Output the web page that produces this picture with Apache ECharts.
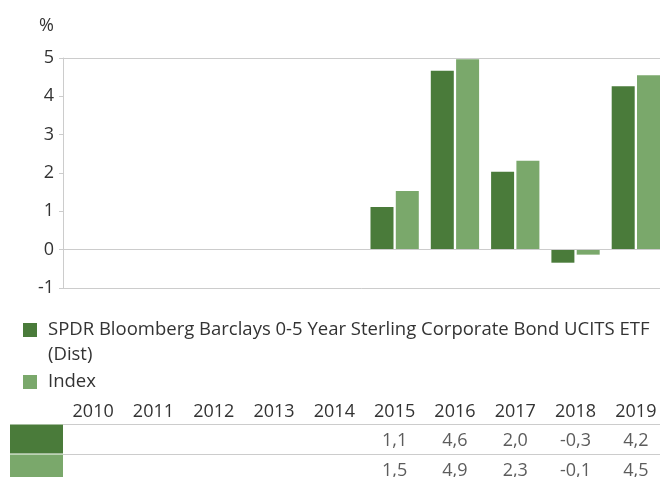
<!DOCTYPE html>
<html>
<head>
<meta charset="utf-8">
<script src="https://cdn.jsdelivr.net/npm/echarts@6/dist/echarts.min.js"></script>
<style>
html,body{margin:0;padding:0;background:#fff;}
#chart{width:660px;height:477px;}
</style>
</head>
<body>
<div id="chart"></div>
<script>
const years = ['2010','2011','2012','2013','2014','2015','2016','2017','2018','2019'];
const fundName = 'SPDR Bloomberg Barclays 0-5 Year Sterling Corporate Bond UCITS ETF (Dist)';
const indexName = 'Index';
const fundValues = [null, null, null, null, null, 1.11, 4.67, 2.03, -0.34, 4.26];
const indexValues = [null, null, null, null, null, 1.53, 4.97, 2.32, -0.13, 4.55];
const fundTable = ['', '', '', '', '', '1,1', '4,6', '2,0', '-0,3', '4,2'];
const indexTable = ['', '', '', '', '', '1,5', '4,9', '2,3', '-0,1', '4,5'];
const yTicks = [-1, 0, 1, 2, 3, 4, 5];

const darkGreen = '#4A7B3A';
const lightGreen = '#7AA86B';
const textColor = '#333333';
const lineColor = '#cccccc';
const FONT = '"Open Sans", sans-serif';

const tableRows = [fundTable, indexTable];
const tableData = [];
tableRows.forEach(function (row, r) {
  row.forEach(function (txt, i) {
    if (txt !== '') tableData.push({ value: [i, r], txt: txt });
  });
});

const legendRich = {
  p: { fontFamily: FONT, fontSize: 18.5, lineHeight: 25, color: textColor, padding: [0, 0, 0, 6] }
};

const chart = echarts.init(document.getElementById('chart'));
chart.setOption({
  animation: false,
  textStyle: { fontFamily: FONT },
  grid: [
    { left: 63, width: 603, top: 58, bottom: 189, outerBoundsMode: 'none', containLabel: false },
    { left: 63, width: 603, top: 424, height: 60, outerBoundsMode: 'none', containLabel: false }
  ],
  legend: [
    {
      data: [fundName], left: 23, top: 292.5, padding: 0,
      itemWidth: 14, itemHeight: 14, icon: 'rect',
      formatter: function (n) {
        const parts = n.split(' (Dist)');
        return '{p| }\n{p|' + parts[0] + '}\n{p|(Dist)}';
      },
      textStyle: { fontFamily: FONT, fontSize: 18.5, color: textColor, lineHeight: 25, rich: legendRich }
    },
    {
      data: [indexName], left: 23, top: 369.5, padding: 0,
      itemWidth: 14, itemHeight: 14, icon: 'rect',
      formatter: function (n) { return '{p|' + n + '}'; },
      textStyle: { fontFamily: FONT, fontSize: 18.5, color: textColor, lineHeight: 25, rich: legendRich }
    }
  ],
  xAxis: [
    {
      type: 'category', gridIndex: 0, data: years, position: 'bottom',
      axisLine: { onZero: false, lineStyle: { color: lineColor, width: 1 } },
      axisTick: { show: false }, axisLabel: { show: false }, splitLine: { show: false }
    },
    {
      type: 'category', gridIndex: 1, data: years, position: 'top',
      axisLine: { show: false }, axisTick: { show: false },
      axisLabel: { fontFamily: FONT, fontSize: 18, color: textColor, margin: 0, interval: 0, lineHeight: 24 },
      splitLine: { show: false }
    }
  ],
  yAxis: [
    {
      type: 'value', gridIndex: 0, min: yTicks[0], max: yTicks[yTicks.length - 1], interval: 1,
      name: '%', nameLocation: 'end', nameGap: 20,
      nameTextStyle: { fontFamily: FONT, fontSize: 18, color: textColor, align: 'right', verticalAlign: 'bottom', lineHeight: 24, padding: [0, 9, 0, 0] },
      axisLine: { show: true, lineStyle: { color: lineColor, width: 1 } },
      axisTick: { show: true, length: 4, lineStyle: { color: lineColor } },
      axisLabel: { fontFamily: FONT, fontSize: 18, color: textColor, margin: 9 },
      splitLine: { show: false }
    },
    {
      type: 'category', gridIndex: 1, data: ['fund', 'index'], inverse: true,
      axisLine: { show: false }, axisTick: { show: false },
      splitLine: { show: true, interval: 0, lineStyle: { color: lineColor, width: 1 } },
      axisLabel: {
        margin: 0, interval: 0,
        formatter: function (v) { return v === 'fund' ? '{a| }' : '{b| }'; },
        rich: {
          a: { width: 53, height: 29, backgroundColor: darkGreen },
          b: { width: 53, height: 29, backgroundColor: lightGreen }
        }
      }
    }
  ],
  series: [
    {
      name: fundName, type: 'bar', xAxisIndex: 0, yAxisIndex: 0,
      data: fundValues, barWidth: 23, barGap: '10%',
      itemStyle: { color: darkGreen },
      markLine: {
        silent: true, symbol: 'none', label: { show: false },
        lineStyle: { color: lineColor, width: 1, type: 'solid' },
        data: [{ yAxis: 0 }, { yAxis: 5 }]
      }
    },
    {
      name: indexName, type: 'bar', xAxisIndex: 0, yAxisIndex: 0,
      data: indexValues, barWidth: 23, barGap: '10%',
      itemStyle: { color: lightGreen }
    },
    {
      type: 'scatter', xAxisIndex: 1, yAxisIndex: 1, symbolSize: 1,
      itemStyle: { color: 'rgba(0,0,0,0)' },
      data: tableData,
      label: {
        show: true, position: 'inside', offset: [0, 2], fontFamily: FONT, fontSize: 18, color: textColor,
        formatter: function (p) { return p.data.txt; }
      }
    }
  ]
});
</script>
</body>
</html>
